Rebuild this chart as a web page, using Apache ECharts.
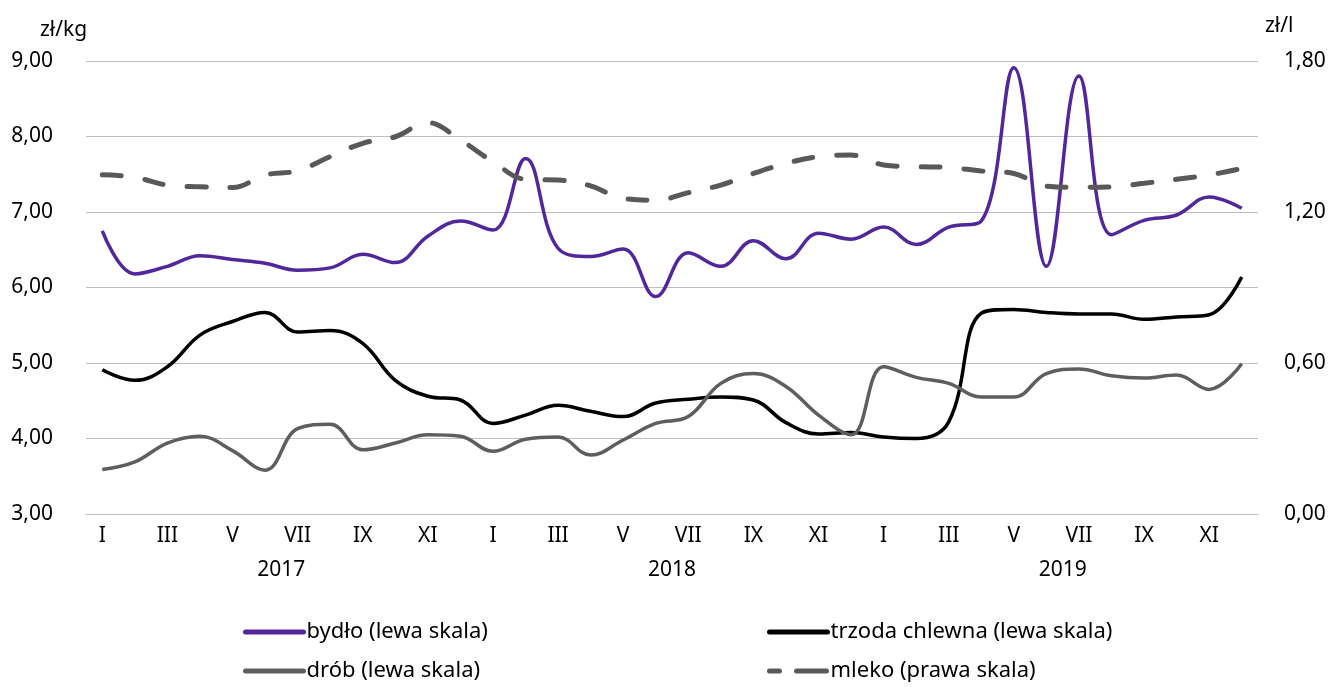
<!DOCTYPE html>
<html>
<head>
<meta charset="utf-8">
<script src="https://cdn.jsdelivr.net/npm/echarts@6/dist/echarts.min.js"></script>
<style>
html,body{margin:0;padding:0;background:#fff;}
#chart{width:1330px;height:687px;}
</style>
</head>
<body>
<div id="chart"></div>
<script>
const months = ['I','II','III','IV','V','VI','VII','VIII','IX','X','XI','XII',
                'I','II','III','IV','V','VI','VII','VIII','IX','X','XI','XII',
                'I','II','III','IV','V','VI','VII','VIII','IX','X','XI','XII'];
const years = ['2017','2018','2019'];
const leftTicks = {min: 3, max: 9, interval: 1};
const rightTicks = {min: 0, max: 1.8, interval: 0.6};

const bydlo = [6.75,6.18,6.28,6.42,6.37,6.32,6.23,6.26,6.44,6.33,6.68,6.88,
               6.76,7.71,6.52,6.41,6.51,5.88,6.46,6.28,6.62,6.38,6.72,6.64,
               6.80,6.57,6.80,6.88,8.91,6.28,8.80,6.70,6.89,6.96,7.20,7.05];
const trzoda = [4.91,4.77,4.95,5.37,5.55,5.67,5.41,5.43,5.26,4.77,4.56,4.51,
                4.20,4.31,4.44,4.36,4.29,4.47,4.52,4.55,4.51,4.21,4.06,4.08,
                4.02,4.00,4.22,5.66,5.71,5.67,5.65,5.65,5.58,5.61,5.64,6.14];
const drob = [3.59,3.69,3.94,4.03,3.84,3.58,4.13,4.19,3.85,3.94,4.05,4.03,
              3.83,3.99,4.02,3.78,3.98,4.20,4.29,4.73,4.86,4.69,4.31,4.05,
              4.95,4.81,4.73,4.55,4.55,4.86,4.92,4.83,4.80,4.84,4.65,4.99];
const mleko = [1.348,1.338,1.307,1.300,1.297,1.347,1.364,1.420,1.473,1.499,1.555,1.486,
               1.400,1.330,1.327,1.304,1.254,1.247,1.277,1.307,1.353,1.393,1.420,1.426,
               1.387,1.380,1.377,1.363,1.353,1.303,1.298,1.300,1.314,1.330,1.347,1.373];

const FONT = '"Noto Sans", "Open Sans", sans-serif';
const FS = 21;
const txt = {fontFamily: FONT, fontSize: FS, color: '#000'};
const fmt = v => v.toFixed(2).replace('.', ',');

const chart = echarts.init(document.getElementById('chart'));
const leg = (name, left, top, dashed) => ({
  data: [name], left: left, top: top, orient: 'horizontal',
  itemWidth: 58, itemHeight: 16, itemGap: 0, padding: 0,
  itemStyle: {opacity: 0, borderWidth: 0},
  lineStyle: {width: 5, cap: 'round', type: dashed ? [10, 17, 30, 8] : 'solid'},
  textStyle: {fontFamily: FONT, fontSize: 22, color: '#000', padding: [0,0,0,-2]},
  selectedMode: false
});
chart.setOption({
  animation: false,
  backgroundColor: '#fff',
  grid: {left: 86, right: 72, top: 61, bottom: 173, containLabel: false},
  title: [
    {text: 'zł/kg', left: 35, top: 15, textStyle: {fontFamily: FONT, fontSize: FS, fontWeight: 'normal', color: '#000'}},
    {text: 'zł/l', left: 1260, top: 11, textStyle: {fontFamily: FONT, fontSize: FS, fontWeight: 'normal', color: '#000'}}
  ],
  legend: [
    leg('bydło (lewa skala)', 243, 621, false),
    leg('trzoda chlewna (lewa skala)', 767, 621, false),
    leg('drób (lewa skala)', 243, 660, false),
    leg('mleko (prawa skala)', 767, 660, true)
  ],
  xAxis: [
    {type: 'category', data: months, boundaryGap: true,
     axisLine: {show: true, lineStyle: {color: '#BFBFBF', width: 1}},
     axisTick: {show: false},
     axisLabel: Object.assign({interval: 1, margin: 12}, txt),
     splitLine: {show: false}},
    {type: 'category', data: years, boundaryGap: true, position: 'bottom', offset: 34,
     axisLine: {show: false}, axisTick: {show: false},
     axisLabel: Object.assign({interval: 0, margin: 12}, txt)}
  ],
  yAxis: [
    {type: 'value', min: leftTicks.min, max: leftTicks.max, interval: leftTicks.interval,
     axisLine: {show: false}, axisTick: {show: false},
     axisLabel: Object.assign({margin: 33, formatter: fmt}, txt),
     splitLine: {lineStyle: {color: '#BFBFBF', width: 1}}},
    {type: 'value', min: rightTicks.min, max: rightTicks.max, interval: rightTicks.interval,
     position: 'right',
     axisLine: {show: false}, axisTick: {show: false},
     axisLabel: Object.assign({margin: 26, formatter: fmt}, txt),
     splitLine: {show: false}}
  ],
  series: [
    {name: 'bydło (lewa skala)', type: 'line', data: bydlo, yAxisIndex: 0, smooth: 0.4,
     symbol: 'none', color: '#51279B', lineStyle: {color: '#51279B', width: 3.5}},
    {name: 'trzoda chlewna (lewa skala)', type: 'line', data: trzoda, yAxisIndex: 0, smooth: 0.4,
     symbol: 'none', color: '#000', lineStyle: {color: '#000', width: 3.5}},
    {name: 'drób (lewa skala)', type: 'line', data: drob, yAxisIndex: 0, smooth: 0.4,
     symbol: 'none', color: '#5E5E5E', lineStyle: {color: '#5E5E5E', width: 3.5}},
    {name: 'mleko (prawa skala)', type: 'line', data: mleko, yAxisIndex: 1, smooth: 0.4,
     symbol: 'none', color: '#595959',
     lineStyle: {color: '#595959', width: 5, type: [19, 24], cap: 'round'}}
  ]
});
</script>
</body>
</html>
